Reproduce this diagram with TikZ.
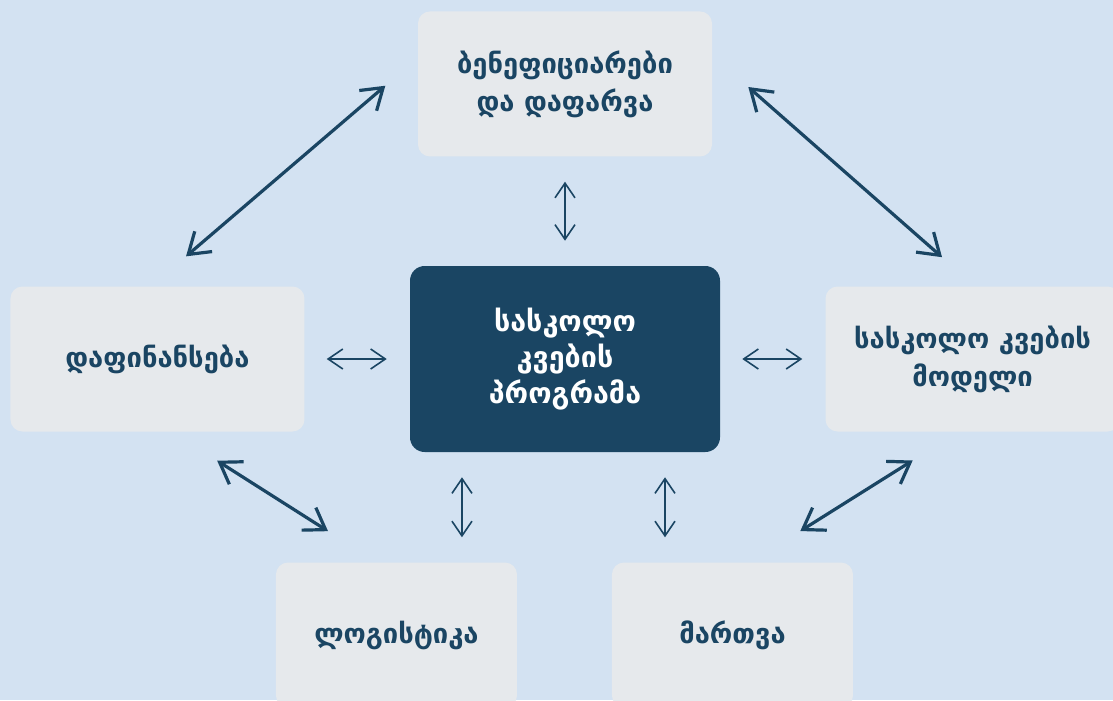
\documentclass[tikz,border=0pt]{standalone}
\usepackage{fontspec}
\setmainfont{DejaVu Sans}
\usetikzlibrary{arrows.meta, calc, positioning}
\definecolor{bgblue}{HTML}{D3E2F2}
\definecolor{boxgray}{HTML}{E6E9EC}
\definecolor{navy}{HTML}{1A4563}
\tikzstyle{topic} = [rectangle, rounded corners=9pt, fill=boxgray, text=navy, font=\bfseries\fontsize{20.5}{28.5}\selectfont, align=center, minimum width=220.5pt, minimum height=108.75pt, inner sep=0pt]
\tikzstyle{narrow} = [minimum width=180.75pt]
\tikzstyle{core} = [rectangle, rounded corners=11pt, fill=navy, text=white, font=\bfseries\fontsize{21.5}{27}\selectfont, align=center, minimum width=232.5pt, minimum height=139.5pt, inner sep=0pt]
\tikzstyle{longarrow} = [navy, line width=2.4pt, line cap=round, {Straight Barb[length=15pt,width=20pt]}-{Straight Barb[length=15pt,width=20pt]}]
\tikzstyle{shortarrow} = [navy, line width=1.2pt, line cap=round, {Straight Barb[length=11pt,width=15pt]}-{Straight Barb[length=11pt,width=15pt]}]

\begin{document}
\begin{tikzpicture}[x=0.75pt, y=-0.75pt, node distance=78.75pt]
	\fill [bgblue] (0,0) rectangle (1113,700);
	\useasboundingbox (0,0) rectangle (1113,700);
	\clip (0,0) rectangle (1113,700);
	\node (Program) [core] at (565,359) {სასკოლო\\კვების\\პროგრამა};
	\node (Coverage) [topic, above=81.75pt of Program] {ბენეფიციარები\\და დაფარვა};
	\node (Funding) [topic, left=of Program] {დაფინანსება};
	\node (Model) [topic, right=of Program] {სასკოლო კვების\\მოდელი};
	\node (Logistics) [topic, narrow, below=82.5pt of Program, xshift=-126.4pt] {ლოგისტიკა};
	\node (Management) [topic, narrow, below=82.5pt of Program, xshift=125.6pt] {მართვა};
	\draw [longarrow, shorten <=34.5pt, shorten >=32pt] (Funding.95) -- (Coverage.170);
	\draw [longarrow, shorten <=36pt, shorten >=33pt] (Coverage.11) -- (Model.88);
	\draw [longarrow, shorten <=40.5pt, shorten >=43.5pt] (Funding.281) -- (Logistics.105);
	\draw [longarrow, shorten <=44pt, shorten >=40.5pt] (Management.76) -- (Model.259);
	\draw [shortarrow, shorten <=18.75pt, shorten >=18.75pt] (Coverage) -- (Program);
	\draw [shortarrow, shorten <=16.5pt, shorten >=17.25pt] (Funding) -- (Program);
	\draw [shortarrow, shorten <=16.5pt, shorten >=17.25pt] (Program) -- (Model);
	\draw [shortarrow, shorten <=18.75pt, shorten >=18.75pt] ([xshift=-77.25pt]Program.south) -- ([xshift=49.1pt]Logistics.north);
	\draw [shortarrow, shorten <=18.75pt, shorten >=18.75pt] ([xshift=75pt]Program.south) -- ([xshift=-50.6pt]Management.north);
\end{tikzpicture}
\end{document}
